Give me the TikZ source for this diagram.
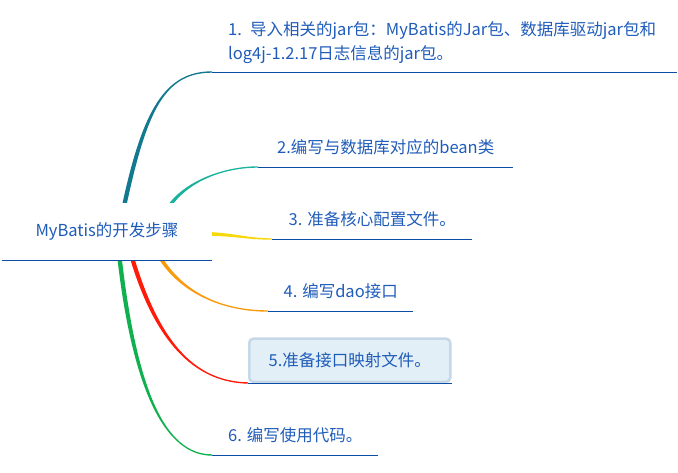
\documentclass[tikz,border=0pt]{standalone}
\usepackage{fontspec}
\setmainfont{Noto Sans CJK SC}
\usetikzlibrary{calc}
\definecolor{txtblue}{HTML}{1F5CBA}
\definecolor{lineblue}{HTML}{0C4DA6}
\definecolor{bteal}{HTML}{13798F}
\definecolor{bgreen}{HTML}{19B39B}
\definecolor{byellow}{HTML}{F7D80A}
\definecolor{borange}{HTML}{F99A0B}
\definecolor{bred}{HTML}{FF1A0A}
\definecolor{bleaf}{HTML}{10B04E}
\definecolor{boxfill}{HTML}{E3EFF6}
\definecolor{boxline}{HTML}{C6D8E8}
\tikzset{
  topic/.style={anchor=south west, minimum height=40pt, inner sep=0pt,
    text=txtblue, font=\fontsize{16.5}{24}\selectfont},
  uline/.style={draw=lineblue, line width=0.9pt},
}
% tapered branch: colour, start, control 1, control 2, end, sign (1 down, -1 up)
\newcommand{\limb}[6]{%
  \fill[#1] ($#2+(-2.2,0)$) .. controls ($#3+(-2.2,0)$) and ($#4+(0,{#6*0.7})$) .. ($#5+(0,{#6*0.7})$)
    -- ($#5+(0,{-1*(#6)*0.7})$) .. controls ($#4+(0,{-1*(#6)*0.7})$) and ($#3+(2.2,0)$) .. ($#2+(2.2,0)$) -- cycle;}
\begin{document}
\begin{tikzpicture}[x=1pt,y=-1pt]
    \useasboundingbox (0,0) rectangle (678,473);

    \node[topic, anchor=center, minimum width=210pt, minimum height=57pt] (root) at (107,231.5) {MyBatis的开发步骤};

    \node[topic, text width=433pt, inner xsep=16pt, inner ysep=8pt, align=left] (t1) at (212,72)
        {1. 导入相关的jar包：MyBatis的Jar包、数据库驱动jar包和\\log4j-1.2.17日志信息的jar包。};
    \node[topic, minimum width=255pt] (t2) at (258,167) {2.编写与数据库对应的bean类};
    \node[topic, minimum width=200pt] (t3) at (272,239) {3. 准备核心配置文件。};
    \node[topic, minimum width=145pt] (t4) at (268,311) {4. 编写dao接口};
    \node[topic, minimum width=201pt, minimum height=43pt, fill=boxfill, draw=boxline,
        line width=2.5pt, rounded corners=4pt] (t5) at (248,383) {5.准备接口映射文件。};
    \node[topic, minimum width=166pt] (t6) at (212,455) {6. 编写使用代码。};

    % where the branches leave the central topic
    \coordinate (s1) at ($(root.north west)+(123,0)$);
    \coordinate (s2) at ($(root.north west)+(170,0)$);
    \coordinate (s3) at ($(root.east)+(0,2.5)$);
    \coordinate (s4) at ($(root.south west)+(160,0)$);
    \coordinate (s5) at ($(root.south west)+(131,0)$);
    \coordinate (s6) at ($(root.south west)+(118,0)$);

    \limb{bteal}{(s1)}{(145,110)}{(165,72)}{(t1.south west)}{-1}
    \limb{bgreen}{(s2)}{(190,180)}{(225,167)}{(t2.south west)}{-1}
    \fill[byellow] ($(s3)+(0,-1.8)$) .. controls (235,233.5) and (250,238.3) .. ($(t3.south west)+(0,-0.7)$)
        -- ($(t3.south west)+(0,0.7)$) .. controls (250,239.7) and (235,236.5) .. ($(s3)+(0,1.8)$) -- cycle;
    \limb{borange}{(s4)}{(185,295)}{(225,311)}{(t4.south west)}{1}
    \limb{bred}{(s5)}{(160,350)}{(200,382)}{(t5.south west)}{1}
    \limb{bleaf}{(s6)}{(135,390)}{(165,455)}{(t6.south west)}{1}

    \foreach \n in {root,t1,t2,t3,t4,t5,t6} {
        \draw[uline] (\n.south west) -- (\n.south east);
    }
\end{tikzpicture}
\end{document}
